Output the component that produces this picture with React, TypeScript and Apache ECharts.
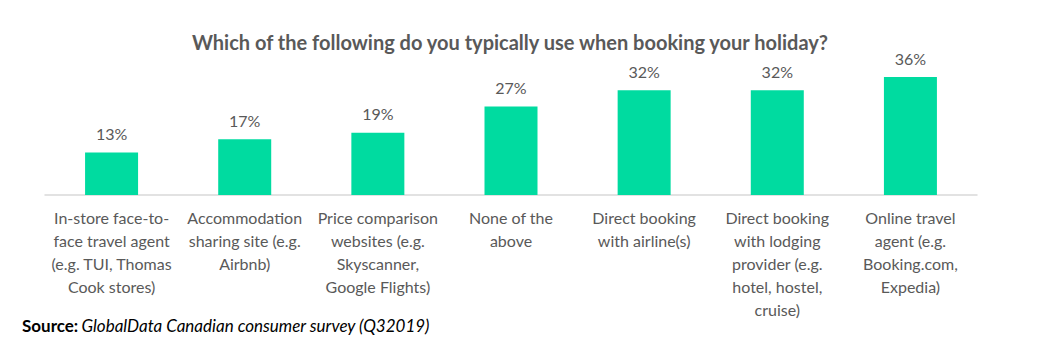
import React, { useEffect, useRef } from "react";
import * as echarts from "echarts";

const categories = [
  "In-store face-to-\nface travel agent\n(e.g. TUI, Thomas\nCook stores)",
  "Accommodation\nsharing site (e.g.\nAirbnb)",
  "Price comparison\nwebsites (e.g.\nSkyscanner,\nGoogle Flights)",
  "None of the\nabove",
  "Direct booking\nwith airline(s)",
  "Direct booking\nwith lodging\nprovider (e.g.\nhotel, hostel,\ncruise)",
  "Online travel\nagent (e.g.\nBooking.com,\nExpedia)",
];
const values = [13, 17, 19, 27, 32, 32, 36];

const FONT = "Lato, 'Open Sans', sans-serif";

export default function App() {
  const ref = useRef<HTMLDivElement>(null);
  useEffect(() => {
    const chart = echarts.init(ref.current!, null, { renderer: "svg" });
    chart.setOption({
      animation: false,
      backgroundColor: "#ffffff",
      title: {
        text: "Which of the following do you typically use when booking your holiday?",
        left: 505,
        top: 27,
        textAlign: "center",
        textStyle: { fontFamily: FONT, fontSize: 20, fontWeight: "bold", color: "#595959" },
      },
      grid: { left: 45, right: 1045 - 977, top: 64, height: 131, containLabel: false },
      xAxis: {
        type: "category",
        data: categories,
        axisLine: { lineStyle: { color: "#d9d9d9", width: 1.5 } },
        axisTick: { show: false },
        axisLabel: {
          interval: 0,
          fontFamily: FONT,
          fontSize: 16,
          color: "#595959",
          lineHeight: 23,
          margin: 11,
        },
      },
      yAxis: {
        type: "value",
        min: 0,
        max: 40,
        show: false,
        splitLine: { show: false },
      },
      series: [
        {
          type: "bar",
          data: values,
          barWidth: 53,
          itemStyle: { color: "#00dba0" },
          label: {
            show: true,
            position: "top",
            distance: 11,
            formatter: "{c}%",
            fontFamily: FONT,
            fontSize: 16,
            color: "#595959",
          },
        },
      ],
      graphic: [
        {
          type: "text",
          left: 22,
          top: 317,
          style: {
            rich: {
              b: { fontFamily: FONT, fontSize: 17, fontWeight: "bold", fill: "#000" },
              i: { fontFamily: FONT, fontSize: 17, fontStyle: "italic", fill: "#000" },
            },
            text: "{b|Source:} {i|GlobalData Canadian consumer survey (Q32019)}",
          },
        },
      ],
    });
    return () => chart.dispose();
  }, []);
  return (
    <div
      ref={ref}
      style={{ position: "absolute", left: 0, top: 0, width: 1045, height: 356 }}
    />
  );
}
